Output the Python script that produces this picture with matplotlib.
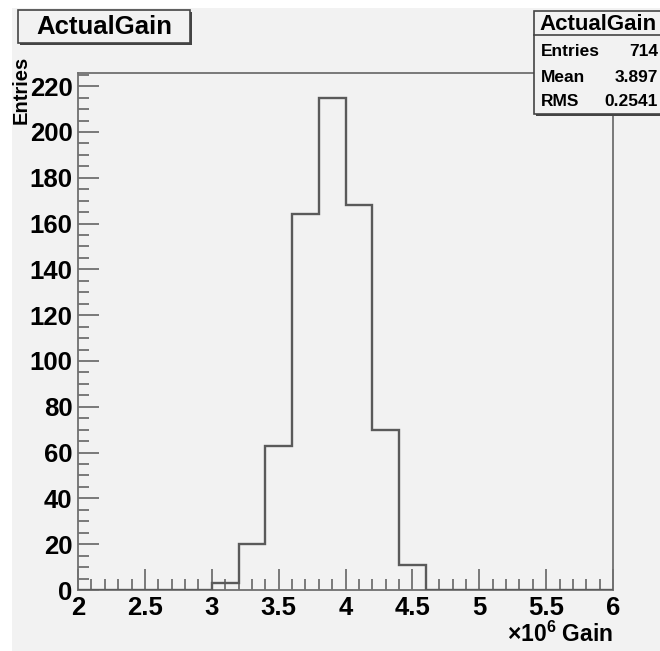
import numpy as np
import matplotlib
matplotlib.use("Agg")
import matplotlib.pyplot as plt
from matplotlib.patches import Rectangle
from matplotlib.lines import Line2D
from matplotlib.ticker import MultipleLocator

# ---- data ----
hist_name = "ActualGain"
x_min, x_max, n_bins = 2.0, 6.0, 20
counts = [0, 0, 0, 0, 0, 3, 20, 63, 164, 215, 168, 70, 11, 0, 0, 0, 0, 0, 0, 0]
stat_names = ["Entries", "Mean", "RMS"]
stat_values = ["714", "3.897", "0.2541"]
x_label = r"$\times10^{6}$ Gain"
y_label = "Entries"
x_ticks = [2, 2.5, 3, 3.5, 4, 4.5, 5, 5.5, 6]
x_ticklabels = ["2", "2.5", "3", "3.5", "4", "4.5", "5", "5.5", "6"]
y_ticks = [0, 20, 40, 60, 80, 100, 120, 140, 160, 180, 200, 220]

plt.rcParams['font.family'] = ['Liberation Sans', 'DejaVu Sans']
plt.rcParams['font.weight'] = 'bold'
plt.rcParams['mathtext.fontset'] = 'custom'
plt.rcParams['mathtext.rm'] = 'Liberation Sans:bold'
plt.rcParams['mathtext.it'] = 'Liberation Sans:bold'
plt.rcParams['mathtext.bf'] = 'Liberation Sans:bold'

W, H = 660, 651
fig = plt.figure(figsize=(W / 100, H / 100), dpi=100)
fig.patch.set_facecolor('white')
BG = '#f2f2f2'
FRAME = '#707070'


def fx(x):
    return x / W


def fy(y):
    return 1 - y / H


# pad background
fig.patches.append(Rectangle((fx(12), 0), 1 - fx(12), fy(8), transform=fig.transFigure,
                             facecolor=BG, edgecolor='none', zorder=-10))

ax_l, ax_r, ax_t, ax_b = 78, 613, 73, 590
ax = fig.add_axes([fx(ax_l), fy(ax_b), fx(ax_r - ax_l), (ax_b - ax_t) / H])
ax.set_zorder(1)
ax.set_facecolor(BG)

edges = np.linspace(x_min, x_max, n_bins + 1)
ax.stairs(counts, edges, color='#5a5a5a', linewidth=1.7, baseline=None, zorder=3)
ymax = 1.05 * max(counts)
ax.set_xlim(x_min, x_max)
ax.set_ylim(0, ymax)

for s in ax.spines.values():
    s.set_color(FRAME)
    s.set_linewidth(1.3)

ax.set_xticks(x_ticks)
ax.set_xticklabels(x_ticklabels)
ax.set_yticks(y_ticks)
ax.xaxis.set_minor_locator(MultipleLocator(0.1))
ax.yaxis.set_minor_locator(MultipleLocator(5))
ax.tick_params(axis='both', which='both', direction='in', color=FRAME, width=1.3,
               top=False, right=False)
ax.tick_params(axis='x', which='major', length=15, pad=4, labelsize=18.5)
ax.tick_params(axis='x', which='minor', length=8)
ax.tick_params(axis='y', which='major', length=15, pad=4, labelsize=18.5)
ax.tick_params(axis='y', which='minor', length=8)
for lab in ax.get_xticklabels() + ax.get_yticklabels():
    lab.set_fontweight('bold')

# axis titles
fig.text(fx(21), fy(56), y_label, rotation=90, ha='center', va='top',
         fontsize=14.5, fontweight='bold', zorder=5)
fig.text(fx(613), fy(634), x_label, ha='right', va='center',
         fontsize=16.5, fontweight='bold', zorder=5)


def box(x0, y0, x1, y1, z=10):
    # shadow
    fig.patches.append(Rectangle((fx(x0 + 2), fy(y1 + 2)), fx(x1 - x0), (y1 - y0) / H,
                                 transform=fig.transFigure, facecolor='#444444',
                                 edgecolor='none', zorder=z))
    fig.patches.append(Rectangle((fx(x0), fy(y1)), fx(x1 - x0), (y1 - y0) / H,
                                 transform=fig.transFigure, facecolor=BG,
                                 edgecolor='#444444', linewidth=1.2, zorder=z + 0.1))


# title box
box(18, 10, 190, 43)
fig.text(fx(104), fy(27.5), hist_name, ha='center', va='center', fontsize=18.5,
         fontweight='bold', zorder=12)

# stats box
box(534, 11, 663, 114)
fig.lines.append(Line2D([fx(534), 1], [fy(35), fy(35)], transform=fig.transFigure,
                        color='#444444', linewidth=1.2, zorder=12))
fig.text(fx(598), fy(24), hist_name, ha='center', va='center', fontsize=16,
         fontweight='bold', zorder=12)
row_y = [52, 78, 102]
for name, val, yy in zip(stat_names, stat_values, row_y):
    fig.text(fx(541), fy(yy), name, ha='left', va='center', fontsize=12.5,
             fontweight='bold', zorder=12)
    fig.text(fx(658), fy(yy), val, ha='right', va='center', fontsize=12.5,
             fontweight='bold', zorder=12)

fig.savefig('out.png', dpi=100, facecolor=fig.get_facecolor())
